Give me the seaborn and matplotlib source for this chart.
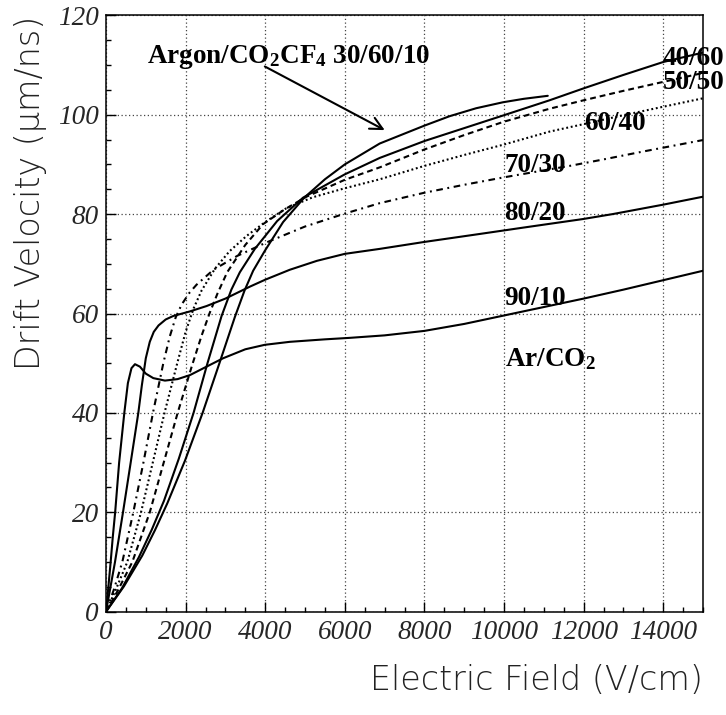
import numpy as np
import pandas as pd
import matplotlib
matplotlib.use("Agg")
import matplotlib.pyplot as plt
import seaborn as sns
from matplotlib.ticker import MultipleLocator

# ---- data (E in V/cm, v in um/ns) ----
field_9010 = [0, 60, 117, 170, 230, 330, 460, 550, 640, 728, 853, 1000, 1188, 1481, 1800, 2108, 2500,
              2944, 3500, 3990, 4618, 5500, 6125, 7000, 8000, 9000, 10000, 11000, 12000, 13000, 14000, 15000]
vel_9010 = [0, 5, 10, 15, 20, 30, 40, 46, 49, 49.8, 49.3, 47.9, 47.0, 46.5, 46.8, 47.6, 49.2,
            51.0, 52.8, 53.7, 54.3, 54.8, 55.1, 55.6, 56.5, 57.9, 59.6, 61.3, 63.0, 64.8, 66.7, 68.6]

field_8020 = [0, 226, 427, 620, 812, 900, 1000, 1100, 1200, 1320, 1500, 1690, 2100, 2527, 3000, 3614,
              4000, 4618, 5300, 6000, 6877, 8000, 9387, 10500, 11980, 12730, 14000, 15000]
vel_8020 = [0, 10, 20, 30, 40, 45.5, 51, 54.3, 56.3, 57.6, 58.8, 59.5, 60.4, 61.5, 63.0, 65.4,
            66.8, 68.8, 70.6, 72.0, 73.0, 74.4, 76.0, 77.3, 79.0, 80.0, 81.9, 83.5]

field_7030 = [0, 200, 410, 686, 940, 1180, 1440, 1600, 1750, 1900, 2100, 2276, 2700, 3300, 4033, 5000,
              6000, 6877, 8000, 9000, 10000, 11000, 11650, 12500, 13500, 15000]
vel_7030 = [0, 4.5, 10, 20, 30, 40, 50, 55.3, 59.2, 61.8, 64.2, 65.8, 68.8, 71.6, 74.3, 77.5,
            80.1, 82.2, 84.3, 85.9, 87.4, 88.8, 89.7, 91.0, 92.6, 94.9]

field_6040 = [0, 250, 535, 880, 1175, 1470, 1790, 2000, 2200, 2400, 2736, 3100, 3531, 4000, 4535, 5200,
              6000, 6877, 8000, 9000, 10000, 11145, 12000, 13000, 14000, 15000]
vel_6040 = [0, 4.5, 10, 20, 30, 40, 50, 56.3, 61.0, 64.6, 69.0, 72.5, 75.6, 78.4, 81.2, 83.4,
            85.2, 87.0, 89.7, 91.9, 94.0, 96.6, 98.1, 99.9, 101.6, 103.3]

field_5050 = [0, 300, 661, 1100, 1450, 1800, 2160, 2400, 2600, 2800, 3045, 3500, 3950, 4500, 5037, 6000,
              6877, 8000, 9000, 10000, 11145, 12000, 13000, 14000, 15000]
vel_5050 = [0, 4.3, 10, 20, 30, 40, 49.5, 55.5, 60.0, 64.0, 68.3, 73.8, 78.0, 81.0, 83.5, 86.9,
            89.4, 93.0, 95.9, 98.6, 101.2, 102.9, 104.8, 106.6, 108.4]

field_4060 = [0, 400, 828, 1150, 1456, 1830, 2200, 2550, 2904, 3150, 3363, 3740, 4300, 4950, 6000, 6877,
              8000, 9000, 10000, 11145, 12000, 13000, 14000, 15000]
vel_4060 = [0, 4.7, 11.0, 16.5, 22.3, 30.8, 40, 50, 59.5, 64.8, 68.3, 73.0, 78.6, 83.3, 88.0, 91.3,
            94.7, 97.3, 99.9, 102.9, 105.3, 108.0, 110.6, 112.5]

field_cf4 = [0, 450, 912, 1230, 1540, 1985, 2427, 2850, 3238, 3480, 3697, 3990, 4450, 4980, 5500, 6000,
             6877, 8000, 8634, 9300, 9973, 10500, 11100]
vel_cf4 = [0, 5.1, 11.3, 16.4, 21.8, 30.4, 40, 50, 59.3, 64.6, 68.6, 72.6, 78.4, 83.3, 87.0, 90.0,
           94.2, 97.8, 99.7, 101.3, 102.5, 103.2, 103.8]

series_names = ["90/10", "80/20", "70/30", "60/40", "50/50", "40/60", "30/60/10"]
label_texts = ["90/10", "80/20", "70/30", "60/40", "50/50", "40/60"]
label_E = [10000, 10000, 10015, 12023, 13981, 13981]
label_v = [61.7, 78.8, 88.5, 96.9, 105.2, 110.0]

x_ticks = [0, 2000, 4000, 6000, 8000, 10000, 12000, 14000]
y_ticks = [0, 20, 40, 60, 80, 100, 120]

# ---- style ----
sns.set_theme(style="white")
plt.rcParams["font.family"] = ["Liberation Serif", "DejaVu Serif"]
plt.rcParams["mathtext.fontset"] = "custom"
plt.rcParams["mathtext.rm"] = "Liberation Serif:bold"
plt.rcParams["mathtext.it"] = "Liberation Serif:italic:bold"
plt.rcParams["mathtext.bf"] = "Liberation Serif:bold"

fig = plt.figure(figsize=(7.26, 7.15), dpi=100)
ax = fig.add_axes([106 / 726, 1 - 611.7 / 715, (703 - 106) / 726, (611.7 - 15.3) / 715])

frames = []
data = [(field_9010, vel_9010), (field_8020, vel_8020), (field_7030, vel_7030),
        (field_6040, vel_6040), (field_5050, vel_5050), (field_4060, vel_4060),
        (field_cf4, vel_cf4)]
for name, (e, v) in zip(series_names, data):
    frames.append(pd.DataFrame({"E": e, "v": v, "mix": name}))
df = pd.concat(frames, ignore_index=True)

styles = {
    "90/10": "-",
    "80/20": "-",
    "70/30": (0, (3.2, 2.2, 0.9, 2.2)),
    "60/40": (0, (0.9, 1.3)),
    "50/50": (0, (2.8, 1.9)),
    "40/60": "-",
    "30/60/10": "-",
}
for name in series_names:
    sub = df[df["mix"] == name]
    sns.lineplot(data=sub, x="E", y="v", ax=ax, color="black", linewidth=1.5,
                 linestyle=styles[name], estimator=None, sort=False, legend=False)

ax.set_xlim(0, 15000)
ax.set_ylim(0, 120)
tick_font = dict(fontstyle="italic", family=["Liberation Serif", "DejaVu Serif"], fontsize=19.5)
ax.set_xticks(x_ticks, labels=[str(t) for t in x_ticks], **tick_font)
ax.set_yticks(y_ticks, labels=[str(t) for t in y_ticks], **tick_font)
ax.xaxis.set_minor_locator(MultipleLocator(500))
ax.yaxis.set_minor_locator(MultipleLocator(5))
ax.tick_params(which="both", direction="in", top=False, right=False, bottom=True, left=True,
               color="black", width=1)
ax.tick_params(which="major", length=7)
ax.tick_params(which="minor", length=3.5)
ax.tick_params(axis="x", pad=6)
ax.tick_params(axis="y", pad=5)

ax.grid(True, which="major", linestyle=(0, (1, 2)), linewidth=0.9, color="#444444")
for s in ax.spines.values():
    s.set_visible(True)
    s.set_color("black")
    s.set_linewidth(1.1)

lab_font = dict(family=["DejaVu Sans"], fontweight="light", fontsize=24, color="#222222")
ax.set_xlabel("Electric Field (V/cm)", loc="right", labelpad=14, **lab_font)
ax.set_ylabel("Drift Velocity (μm/ns)", loc="top", labelpad=8, **lab_font)

bold = dict(fontsize=19.5, fontweight="bold", family=["Liberation Serif"], color="black",
            va="baseline", ha="left")
for t, e, v in zip(label_texts, label_E, label_v):
    ax.text(e, v, t, **bold)
ax.text(10015, 49.4, r"Ar/CO$_2$", **bold)
ax.text(1030, 110.4, r"Argon/CO$_2$CF$_4$ 30/60/10", **bold)
ax.annotate("", xy=(7003, 96.9), xytext=(3991, 109.7),
            arrowprops=dict(arrowstyle="->", color="black", lw=1.5, mutation_scale=22,
                            shrinkA=0, shrinkB=0))

fig.savefig("out.png", dpi=100)
